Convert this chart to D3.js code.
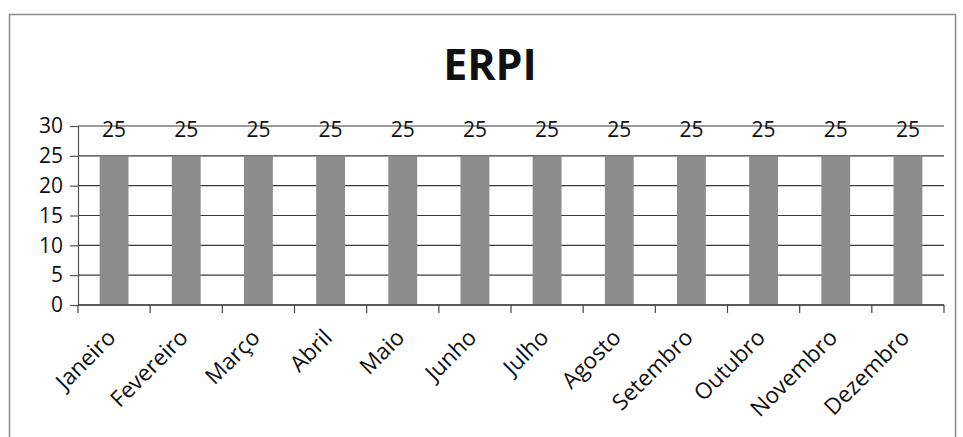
<!DOCTYPE html>
<html>
<head>
<meta charset="utf-8">
<script src="https://cdn.jsdelivr.net/npm/d3@7"></script>
<style>
  html, body { margin: 0; padding: 0; background: #fff; }
  svg { display: block; }
  text { font-family: "Open Sans", "Liberation Sans", sans-serif; fill: #111; }
</style>
</head>
<body>
<svg id="chart" width="963" height="437"></svg>
<script>
// ERPI: monthly values
const months = ["Janeiro", "Fevereiro", "Março", "Abril", "Maio", "Junho",
                "Julho", "Agosto", "Setembro", "Outubro", "Novembro", "Dezembro"];
const values = [25, 25, 25, 25, 25, 25, 25, 25, 25, 25, 25, 25];
const yTicks = [0, 5, 10, 15, 20, 25, 30];
const title = "ERPI";

const svg = d3.select("#chart");
const plot = { left: 78, right: 944, top: 126, bottom: 305 };

// chart frame
svg.append("rect")
  .attr("x", 9.5).attr("y", 14.5)
  .attr("width", 946).attr("height", 440)
  .attr("fill", "none").attr("stroke", "#8a8a8a").attr("stroke-width", 1.5);

svg.append("text")
  .attr("x", 490).attr("y", 80)
  .attr("text-anchor", "middle")
  .style("font-size", "43px").style("font-weight", "bold")
  .text(title);

const x = d3.scaleBand().domain(months).range([plot.left, plot.right]).paddingInner(0.6).paddingOuter(0.3);
const xb = d3.scaleBand().domain(months).range([plot.left, plot.right]);
const y = d3.scaleLinear().domain([0, 30]).range([plot.bottom, plot.top]);

// horizontal gridlines
svg.append("g").selectAll("line").data(yTicks).join("line")
  .attr("x1", plot.left).attr("x2", plot.right)
  .attr("y1", d => y(d)).attr("y2", d => y(d))
  .attr("stroke", "#3a3a3a").attr("stroke-width", 1.2);

// y axis
const yAxis = svg.append("g")
  .attr("transform", `translate(${plot.left},0)`)
  .call(d3.axisLeft(y).tickValues(yTicks).tickSize(8).tickPadding(7));
yAxis.select(".domain").attr("stroke", "#555").attr("stroke-width", 1.2);
yAxis.selectAll(".tick line").attr("stroke", "#555").attr("stroke-width", 1.2);
yAxis.selectAll(".tick text")
  .style("font-size", "21px")
  .style("font-family", "'Open Sans', sans-serif")
  .attr("fill", "#111");

// bars
svg.append("g").selectAll("rect").data(months).join("rect")
  .attr("x", d => x(d))
  .attr("width", x.bandwidth())
  .attr("y", (d, i) => y(values[i]))
  .attr("height", (d, i) => y(0) - y(values[i]))
  .attr("fill", "#8c8c8c");

// value labels
svg.append("g").selectAll("text").data(months).join("text")
  .attr("x", d => x(d) + x.bandwidth() / 2)
  .attr("y", y(30) + 11)
  .attr("text-anchor", "middle")
  .style("font-size", "21px")
  .text((d, i) => values[i]);

// x axis baseline and tick marks at category boundaries
svg.append("line")
  .attr("x1", plot.left).attr("x2", plot.right)
  .attr("y1", y(0)).attr("y2", y(0))
  .attr("stroke", "#444").attr("stroke-width", 1.4);
const boundaries = months.map(m => xb(m)).concat([plot.right]);
svg.append("g").selectAll("line").data(boundaries).join("line")
  .attr("x1", d => d).attr("x2", d => d)
  .attr("y1", y(0)).attr("y2", y(0) + 8)
  .attr("stroke", "#444").attr("stroke-width", 1.2);

// rotated month labels
svg.append("g").selectAll("text").data(months).join("text")
  .attr("transform", d => `translate(${xb(d) + xb.bandwidth() / 2 + 3},${y(0) + 34}) rotate(-45)`)
  .attr("text-anchor", "end")
  .style("font-size", "22.5px")
  .text(d => d);
</script>
</body>
</html>
